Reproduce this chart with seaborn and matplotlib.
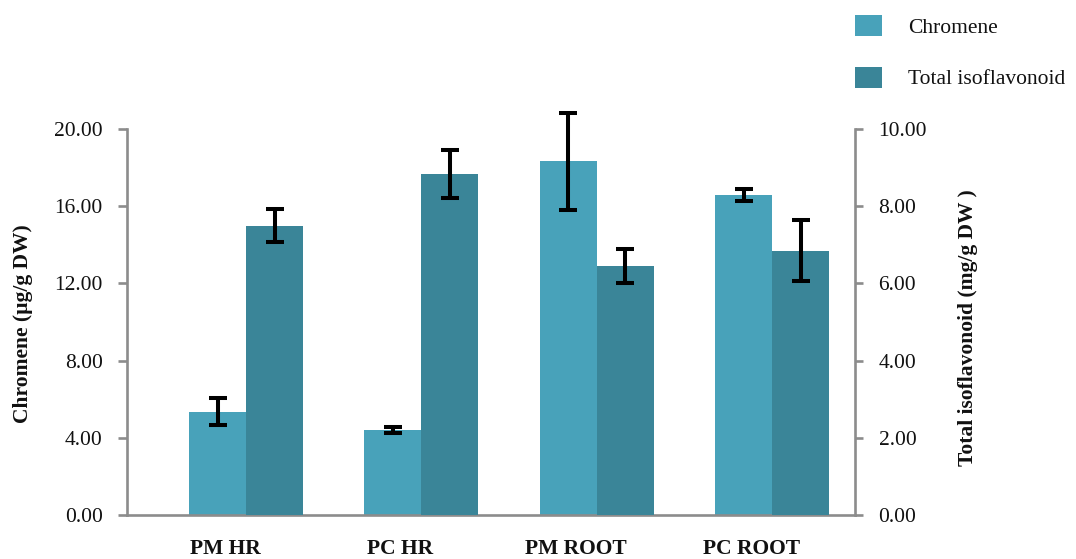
import matplotlib
matplotlib.use("Agg")
import matplotlib.pyplot as plt
import matplotlib.transforms as mtransforms
from matplotlib.patches import Patch
from matplotlib.ticker import FormatStrFormatter
import seaborn as sns
import pandas as pd
import numpy as np

# ---- data ----
samples = ["PM HR", "PC HR", "PM ROOT", "PC ROOT"]
series_names = ["Chromene", "Total isoflavonoid"]
chromene = [5.35, 4.42, 18.32, 16.58]
chromene_err = [0.70, 0.15, 2.50, 0.33]
isoflavonoid = [7.49, 8.83, 6.45, 6.85]
isoflavonoid_err = [0.43, 0.63, 0.45, 0.79]
left_ticks = [0, 4, 8, 12, 16, 20]
right_ticks = [0, 2, 4, 6, 8, 10]

colors = {"Chromene": "#48A2BA", "Total isoflavonoid": "#3A8598"}
axis_grey = "#8C8C8C"
text_col = "#111111"

sns.set_theme(style="white")
plt.rcParams["font.family"] = ["Liberation Serif", "DejaVu Serif"]
plt.rcParams["text.color"] = text_col
FS = 15.5
BAR_W = 0.325

fig = plt.figure(figsize=(10.76, 5.59), dpi=100)
ax1 = fig.add_axes([127 / 1076, 1 - 515 / 559, (855 - 127) / 1076, (515 - 129) / 559])
ax2 = ax1.twinx()

idx = np.arange(len(samples))
df1 = pd.DataFrame({"pos": idx - BAR_W / 2, "Sample": samples, "value": chromene})
df2 = pd.DataFrame({"pos": idx + BAR_W / 2, "Sample": samples, "value": isoflavonoid})

sns.barplot(data=df1, x="pos", y="value", native_scale=True, color=colors["Chromene"],
            width=BAR_W, saturation=1, errorbar=None, linewidth=0, edgecolor="none", ax=ax1)
sns.barplot(data=df2, x="pos", y="value", native_scale=True,
            color=colors["Total isoflavonoid"], width=BAR_W, saturation=1,
            errorbar=None, linewidth=0, edgecolor="none", ax=ax2)

def add_err(ax, vals, errs):
    pats = sorted([p for p in ax.patches if p.get_height() > 0], key=lambda p: p.get_x())
    xs = [p.get_x() + p.get_width() / 2 for p in pats]
    eb = ax.errorbar(xs, vals, yerr=errs, fmt="none", ecolor="black", elinewidth=2.9,
                     capsize=6.5, capthick=2.9, zorder=5)
    for art in eb.lines[1] + eb.lines[2]:
        art.set_clip_on(False)

add_err(ax1, chromene, chromene_err)
add_err(ax2, isoflavonoid, isoflavonoid_err)

ax1.set_xlim(-0.679, 3.473)
ax1.set_ylim(0, 20)
ax2.set_ylim(0, 10)
ax1.set_xticks(idx)
ax1.set_xticklabels(samples)
ax1.set_yticks(left_ticks)
ax2.set_yticks(right_ticks)
for ax in (ax1, ax2):
    ax.yaxis.set_major_formatter(FormatStrFormatter("%.2f"))
    ax.set_xlabel("")
    ax.grid(False)
    for s in ax.spines.values():
        s.set_color(axis_grey)
        s.set_linewidth(1.9)
    ax.spines["top"].set_visible(False)
ax2.spines["left"].set_visible(False)
ax2.spines["bottom"].set_visible(False)
ax1.spines["right"].set_visible(False)

ax1.tick_params(axis="y", which="major", direction="out", length=6.5, width=1.9,
                color=axis_grey, labelsize=FS, pad=11, left=True, labelcolor=text_col)
ax2.tick_params(axis="y", which="major", direction="out", length=6, width=1.9,
                color=axis_grey, labelsize=FS, pad=11, right=True, labelcolor=text_col)
ax1.tick_params(axis="x", length=0, labelsize=FS, pad=17, labelcolor=text_col)
ax2.tick_params(axis="x", length=0, labelbottom=False)

offset = mtransforms.ScaledTranslation(-0.21, 0, fig.dpi_scale_trans)
for lab in ax1.get_xticklabels():
    lab.set_fontweight("bold")
    lab.set_transform(lab.get_transform() + offset)

ax1.set_ylabel("Chromene (µg/g DW)", fontsize=FS, fontweight="bold", color=text_col)
ax2.set_ylabel("Total isoflavonoid (mg/g DW )", fontsize=FS, fontweight="bold", color=text_col)
ax1.yaxis.set_label_coords(-0.129, 0.497)
ax2.yaxis.set_label_coords(1.141, 0.486)

handles = [Patch(facecolor=colors[s], edgecolor="none", label=s) for s in series_names]
fig.legend(handles=handles, loc="upper left", bbox_to_anchor=(855 / 1076, 1 - 15 / 559),
           frameon=False, borderpad=0, borderaxespad=0, fontsize=FS, handlelength=1.26,
           handleheight=1.12, handletextpad=1.2, labelspacing=1.34, labelcolor=text_col)

fig.savefig("out.png", dpi=100)
